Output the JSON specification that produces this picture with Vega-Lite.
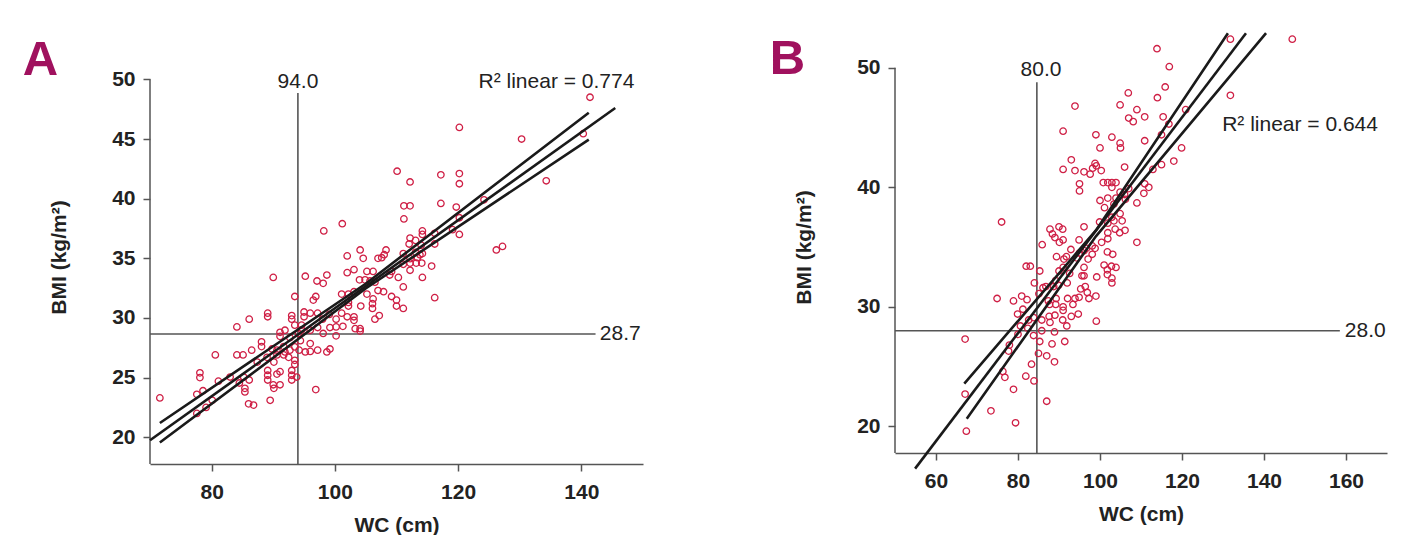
{
"$schema": "https://vega.github.io/schema/vega-lite/v6.json",
"background": "white",
"padding": {"left": 22, "top": 27, "right": 5, "bottom": 0},
"bounds": "flush",
"spacing": 252,
"config": {
  "view": {"stroke": null},
  "axis": {"grid": false, "labelFont": "Liberation Sans", "labelFontWeight": "bold", "labelFontSize": 21, "labelColor": "#222", "titleFont": "Liberation Sans", "titleFontWeight": "bold", "titleFontSize": 21, "titleColor": "#222", "domainColor": "#555", "domainWidth": 1.5, "tickColor": "#555", "tickWidth": 1.5, "tickSize": 7},
  "axisX": {"labelPadding": 10, "titlePadding": 12},
  "axisY": {"labelPadding": 8, "titlePadding": 42, "domain": false},
  "text": {"font": "Liberation Sans", "fontSize": 21, "color": "#222"}
},
"datasets": {
  "pointsA": [
    {"wc":141.4,"bmi":48.5},{"wc":120.2,"bmi":45.97},{"wc":140.3,"bmi":45.45},{"wc":130.3,"bmi":45.0},{"wc":110.1,"bmi":42.3},{"wc":112.2,"bmi":41.4},{"wc":117.2,"bmi":42.0},{"wc":120.2,"bmi":42.1},{"wc":120.2,"bmi":41.25},{"wc":134.3,"bmi":41.5},{"wc":124.2,"bmi":39.9},{"wc":111.2,"bmi":39.4},{"wc":112.2,"bmi":39.4},{"wc":117.2,"bmi":39.6},{"wc":119.7,"bmi":39.3},{"wc":120.2,"bmi":38.4},{"wc":111.2,"bmi":38.3},{"wc":101.2,"bmi":37.9},{"wc":98.2,"bmi":37.3},{"wc":119.1,"bmi":37.4},{"wc":120.2,"bmi":37.0},{"wc":114.2,"bmi":37.3},{"wc":114.2,"bmi":37.0},{"wc":116.2,"bmi":37.1},{"wc":127.2,"bmi":36.0},{"wc":126.2,"bmi":35.7},{"wc":116.2,"bmi":31.7},{"wc":80.6,"bmi":26.9},{"wc":81.1,"bmi":24.7},{"wc":78.1,"bmi":25.4},{"wc":78.1,"bmi":25.0},{"wc":77.6,"bmi":23.6},{"wc":78.6,"bmi":23.9},{"wc":71.6,"bmi":23.3},{"wc":80.1,"bmi":23.1},{"wc":79.1,"bmi":22.5},{"wc":77.6,"bmi":22.0},
    {"wc":112.2,"bmi":36.7},{"wc":113.1,"bmi":36.5},{"wc":114.0,"bmi":36.1},{"wc":112.05,"bmi":36.2},{"wc":116.2,"bmi":36.2},{"wc":113.1,"bmi":35.5},{"wc":113.8,"bmi":35.3},{"wc":114.2,"bmi":35.4},{"wc":112.2,"bmi":34.97},{"wc":113.4,"bmi":35.05},{"wc":112.2,"bmi":34.6},{"wc":113.2,"bmi":34.6},{"wc":114.1,"bmi":34.6},{"wc":115.7,"bmi":34.35},{"wc":112.2,"bmi":34.0},{"wc":114.2,"bmi":33.4},{"wc":107.6,"bmi":35.05},
    {"wc":104.1,"bmi":35.7},{"wc":108.3,"bmi":35.7},{"wc":108.0,"bmi":35.3},{"wc":102.0,"bmi":35.2},{"wc":104.6,"bmi":35.0},{"wc":107.0,"bmi":35.0},{"wc":111.1,"bmi":35.4},{"wc":111.1,"bmi":34.5},
    {"wc":90.0,"bmi":33.4},{"wc":95.2,"bmi":33.5},{"wc":98.7,"bmi":33.6},{"wc":97.1,"bmi":33.1},{"wc":98.1,"bmi":32.9},{"wc":102.0,"bmi":33.8},{"wc":103.1,"bmi":34.05},{"wc":105.2,"bmi":33.9},{"wc":106.2,"bmi":33.9},{"wc":104.0,"bmi":33.2},{"wc":104.9,"bmi":33.2},{"wc":105.7,"bmi":33.1},{"wc":106.5,"bmi":33.0},{"wc":109.2,"bmi":33.9},{"wc":110.3,"bmi":33.4},{"wc":108.9,"bmi":33.6},
    {"wc":93.5,"bmi":31.8},{"wc":96.9,"bmi":31.8},{"wc":96.5,"bmi":31.5},{"wc":101.1,"bmi":32.0},{"wc":102.2,"bmi":32.0},{"wc":103.1,"bmi":32.2},{"wc":102.2,"bmi":31.3},{"wc":102.2,"bmi":31.0},{"wc":105.2,"bmi":32.0},{"wc":107.0,"bmi":32.3},{"wc":107.9,"bmi":32.2},{"wc":106.2,"bmi":31.6},{"wc":106.1,"bmi":31.2},{"wc":106.1,"bmi":30.8},{"wc":109.2,"bmi":31.8},{"wc":110.0,"bmi":31.5},{"wc":110.0,"bmi":31.0},{"wc":111.1,"bmi":32.6},{"wc":111.1,"bmi":30.8},{"wc":104.2,"bmi":31.0},
    {"wc":84.1,"bmi":29.25},{"wc":86.1,"bmi":29.9},{"wc":89.1,"bmi":30.4},{"wc":89.1,"bmi":30.1},{"wc":93.0,"bmi":30.2},{"wc":93.0,"bmi":29.9},{"wc":95.0,"bmi":30.5},{"wc":95.0,"bmi":30.1},{"wc":96.0,"bmi":30.4},{"wc":97.2,"bmi":30.4},{"wc":98.0,"bmi":29.9},{"wc":99.1,"bmi":30.3},{"wc":100.2,"bmi":29.9},{"wc":101.1,"bmi":30.4},{"wc":102.0,"bmi":30.1},{"wc":103.1,"bmi":30.1},{"wc":103.1,"bmi":29.8},{"wc":107.2,"bmi":30.2},{"wc":106.5,"bmi":29.9},{"wc":93.5,"bmi":29.4},{"wc":94.6,"bmi":29.4},{"wc":96.0,"bmi":28.97},{"wc":97.2,"bmi":29.2},{"wc":98.1,"bmi":28.7},{"wc":99.2,"bmi":29.2},{"wc":100.2,"bmi":29.25},{"wc":101.3,"bmi":29.3},{"wc":100.2,"bmi":28.5},{"wc":103.3,"bmi":29.1},{"wc":104.1,"bmi":29.1},{"wc":104.1,"bmi":28.9},
    {"wc":91.1,"bmi":28.8},{"wc":91.9,"bmi":28.97},{"wc":92.7,"bmi":28.35},{"wc":91.1,"bmi":28.46},{"wc":94.1,"bmi":28.7},{"wc":94.6,"bmi":29.0},{"wc":94.4,"bmi":28.1},{"wc":88.1,"bmi":28.0},{"wc":88.1,"bmi":27.6},
    {"wc":93.5,"bmi":27.57},{"wc":94.2,"bmi":27.3},{"wc":95.2,"bmi":27.15},{"wc":96.0,"bmi":27.2},{"wc":97.2,"bmi":27.3},{"wc":98.7,"bmi":27.15},{"wc":99.2,"bmi":27.4},{"wc":96.0,"bmi":27.85},{"wc":89.8,"bmi":27.4},{"wc":90.6,"bmi":27.3},{"wc":91.9,"bmi":27.15},{"wc":92.7,"bmi":27.3},{"wc":91.7,"bmi":27.6},{"wc":86.5,"bmi":27.3},{"wc":84.1,"bmi":26.9},{"wc":85.1,"bmi":26.9},{"wc":89.0,"bmi":26.7},{"wc":90.6,"bmi":26.9},{"wc":91.7,"bmi":26.9},{"wc":92.5,"bmi":26.7},
    {"wc":93.5,"bmi":26.45},{"wc":93.5,"bmi":26.1},{"wc":87.4,"bmi":26.3},{"wc":90.1,"bmi":26.3},{"wc":89.1,"bmi":25.6},{"wc":89.1,"bmi":25.2},{"wc":89.1,"bmi":24.8},{"wc":90.6,"bmi":25.3},{"wc":91.1,"bmi":25.5},{"wc":93.0,"bmi":25.6},{"wc":93.0,"bmi":25.2},{"wc":93.0,"bmi":24.8},{"wc":93.8,"bmi":25.05},{"wc":90.0,"bmi":24.4},{"wc":91.1,"bmi":24.4},{"wc":83.0,"bmi":25.05},{"wc":85.2,"bmi":25.05},{"wc":86.1,"bmi":24.8},{"wc":84.5,"bmi":24.55},{"wc":85.4,"bmi":24.1},{"wc":85.4,"bmi":23.8},{"wc":90.1,"bmi":24.1},{"wc":96.9,"bmi":24.0},{"wc":89.5,"bmi":23.1},{"wc":86.0,"bmi":22.8},{"wc":86.8,"bmi":22.7}
  ],
  "pointsB": [
    {"wc":131.8,"bmi":52.4},{"wc":146.9,"bmi":52.4},{"wc":113.9,"bmi":51.6},{"wc":116.9,"bmi":50.1},{"wc":115.9,"bmi":48.4},{"wc":106.9,"bmi":47.9},{"wc":131.8,"bmi":47.7},{"wc":114.0,"bmi":47.5},{"wc":93.9,"bmi":46.8},{"wc":104.9,"bmi":46.9},{"wc":109.0,"bmi":46.5},{"wc":120.9,"bmi":46.5},{"wc":107.0,"bmi":45.8},{"wc":108.1,"bmi":45.5},{"wc":110.9,"bmi":45.9},{"wc":115.4,"bmi":45.9},{"wc":116.8,"bmi":45.3},{"wc":115.0,"bmi":44.4},{"wc":91.0,"bmi":44.7},{"wc":99.0,"bmi":44.4},{"wc":102.9,"bmi":44.2},{"wc":104.9,"bmi":43.7},{"wc":105.0,"bmi":43.3},{"wc":100.0,"bmi":43.3},{"wc":110.9,"bmi":43.9},{"wc":119.9,"bmi":43.3},{"wc":93.0,"bmi":42.3},{"wc":118.0,"bmi":42.2},{"wc":115.0,"bmi":41.9},{"wc":106.0,"bmi":41.7},{"wc":112.9,"bmi":41.5},{"wc":91.0,"bmi":41.5},{"wc":93.9,"bmi":41.4},{"wc":96.1,"bmi":41.3},{"wc":97.6,"bmi":41.1},{"wc":98.2,"bmi":41.6},{"wc":99.1,"bmi":41.8},{"wc":98.8,"bmi":42.0},{"wc":100.3,"bmi":41.4},{"wc":100.8,"bmi":40.4},{"wc":101.9,"bmi":40.4},{"wc":102.9,"bmi":40.4},{"wc":103.9,"bmi":40.4},{"wc":102.9,"bmi":40.0},{"wc":95.0,"bmi":40.3},{"wc":95.0,"bmi":39.7},{"wc":110.9,"bmi":40.3},{"wc":111.9,"bmi":40.0},{"wc":110.7,"bmi":39.5},{"wc":107.0,"bmi":39.9},{"wc":106.0,"bmi":39.4},{"wc":104.9,"bmi":39.6},{"wc":103.9,"bmi":39.1},{"wc":106.2,"bmi":39.0},{"wc":101.9,"bmi":39.1},{"wc":100.0,"bmi":38.9},{"wc":103.4,"bmi":38.6},{"wc":101.1,"bmi":38.3},{"wc":109.0,"bmi":38.7},{"wc":104.9,"bmi":37.8},{"wc":102.9,"bmi":37.5},{"wc":103.4,"bmi":37.2},{"wc":105.4,"bmi":37.2},{"wc":99.9,"bmi":37.1},{"wc":76.0,"bmi":37.1},{"wc":96.1,"bmi":36.7},{"wc":101.9,"bmi":37.0},{"wc":103.7,"bmi":36.5},{"wc":106.1,"bmi":36.4},{"wc":104.8,"bmi":36.2},{"wc":101.9,"bmi":36.2},{"wc":87.8,"bmi":36.5},{"wc":90.0,"bmi":36.7},{"wc":90.9,"bmi":36.5},{"wc":88.4,"bmi":36.1},{"wc":89.0,"bmi":35.8},{"wc":91.0,"bmi":35.6},{"wc":90.1,"bmi":35.4},{"wc":94.9,"bmi":35.6},{"wc":100.4,"bmi":35.4},{"wc":101.9,"bmi":35.7},{"wc":109.0,"bmi":35.4},{"wc":85.9,"bmi":35.2},{"wc":92.9,"bmi":34.8},{"wc":96.7,"bmi":34.9},{"wc":98.1,"bmi":35.1},{"wc":98.8,"bmi":34.9},{"wc":95.0,"bmi":34.5},{"wc":96.1,"bmi":34.7},{"wc":101.8,"bmi":34.6},{"wc":103.1,"bmi":34.4},{"wc":97.1,"bmi":34.0},{"wc":98.1,"bmi":34.4},{"wc":89.4,"bmi":34.2},{"wc":91.2,"bmi":34.0},{"wc":91.8,"bmi":34.2},{"wc":94.3,"bmi":34.1},{"wc":82.0,"bmi":33.4},{"wc":83.0,"bmi":33.4},{"wc":85.3,"bmi":33.0},{"wc":96.1,"bmi":33.3},{"wc":101.0,"bmi":33.5},{"wc":101.8,"bmi":33.1},{"wc":102.8,"bmi":33.4},{"wc":103.9,"bmi":33.3},{"wc":90.0,"bmi":33.0},{"wc":91.0,"bmi":33.3},{"wc":92.6,"bmi":32.8},{"wc":95.6,"bmi":32.6},{"wc":96.1,"bmi":32.6},{"wc":99.2,"bmi":32.5},{"wc":101.8,"bmi":32.7},{"wc":102.9,"bmi":32.4},{"wc":102.9,"bmi":32.0},{"wc":84.0,"bmi":32.0},{"wc":86.8,"bmi":31.7},{"wc":89.2,"bmi":32.2},{"wc":89.9,"bmi":31.8},{"wc":92.0,"bmi":32.0},{"wc":88.7,"bmi":31.7},{"wc":96.4,"bmi":31.7},{"wc":95.3,"bmi":31.5},{"wc":96.9,"bmi":31.2},{"wc":99.0,"bmi":30.9},{"wc":97.3,"bmi":30.7},{"wc":93.9,"bmi":30.7},{"wc":94.9,"bmi":30.8},{"wc":92.1,"bmi":30.7},{"wc":89.3,"bmi":30.7},{"wc":87.4,"bmi":30.5},{"wc":80.9,"bmi":30.9},{"wc":82.2,"bmi":30.6},{"wc":74.9,"bmi":30.7},{"wc":78.9,"bmi":30.5},{"wc":81.2,"bmi":29.8},{"wc":79.9,"bmi":29.4},{"wc":85.1,"bmi":31.1},{"wc":86.1,"bmi":31.6},{"wc":87.7,"bmi":30.2},{"wc":89.2,"bmi":30.2},{"wc":91.0,"bmi":30.0},{"wc":91.0,"bmi":29.7},{"wc":93.4,"bmi":30.2},{"wc":94.7,"bmi":29.4},{"wc":93.0,"bmi":29.2},{"wc":90.9,"bmi":28.9},{"wc":89.0,"bmi":29.3},{"wc":87.6,"bmi":29.2},{"wc":85.8,"bmi":28.9},{"wc":83.8,"bmi":29.1},{"wc":82.6,"bmi":28.9},{"wc":87.8,"bmi":28.7},{"wc":91.9,"bmi":28.4},{"wc":99.1,"bmi":28.8},{"wc":80.6,"bmi":28.4},{"wc":82.4,"bmi":28.2},{"wc":85.8,"bmi":28.0},{"wc":88.9,"bmi":27.9},{"wc":80.0,"bmi":27.7},{"wc":67.1,"bmi":27.3},{"wc":83.8,"bmi":27.6},{"wc":85.3,"bmi":27.1},{"wc":91.4,"bmi":27.1},{"wc":88.3,"bmi":26.9},{"wc":77.9,"bmi":26.8},{"wc":77.7,"bmi":26.3},{"wc":85.0,"bmi":26.1},{"wc":87.0,"bmi":25.9},{"wc":88.9,"bmi":25.4},{"wc":83.3,"bmi":25.2},{"wc":76.3,"bmi":24.6},{"wc":76.8,"bmi":24.1},{"wc":81.9,"bmi":24.2},{"wc":83.9,"bmi":23.8},{"wc":67.1,"bmi":22.7},{"wc":78.9,"bmi":23.1},{"wc":87.0,"bmi":22.1},{"wc":73.4,"bmi":21.3},{"wc":79.4,"bmi":20.3},{"wc":67.4,"bmi":19.6}
  ],
  "linesA": [
    {"line":"fit","wc":70,"bmi":19.75},{"line":"fit","wc":145.5,"bmi":47.6},
    {"line":"upper","wc":71.6,"bmi":21.2},{"line":"upper","wc":105,"bmi":32.87},{"line":"upper","wc":141.2,"bmi":47.2},
    {"line":"lower","wc":71.6,"bmi":19.56},{"line":"lower","wc":105,"bmi":32.47},{"line":"lower","wc":141.2,"bmi":44.95}
  ],
  "linesB": [
    {"line":"fit","wc":54.9,"bmi":16.46},{"line":"fit","wc":135.6,"bmi":52.9},
    {"line":"upper","wc":66.9,"bmi":23.57},{"line":"upper","wc":99,"bmi":36.4},{"line":"upper","wc":131.2,"bmi":52.9},
    {"line":"lower","wc":67.5,"bmi":20.64},{"line":"lower","wc":99,"bmi":35.9},{"line":"lower","wc":140.5,"bmi":52.9}
  ]
},
"hconcat": [
  {
    "width": 493, "height": 432,
    "layer": [
      {
        "data": {"values": [{"wc": 94, "wc2": 94, "bmi": 17.76, "bmi2": 48.85}, {"wc": 70, "wc2": 142.3, "bmi": 28.66, "bmi2": 28.66}]},
        "mark": {"type": "rule", "color": "#555", "strokeWidth": 1.6},
        "encoding": {"x": {"field": "wc", "type": "quantitative"}, "x2": {"field": "wc2"}, "y": {"field": "bmi", "type": "quantitative"}, "y2": {"field": "bmi2"}}
      },
      {
        "data": {"values": [{}]},
        "mark": {"type": "rule", "color": "#555", "strokeWidth": 1.5},
        "encoding": {"x": {"datum": 70, "type": "quantitative"}, "y": {"datum": 17.76, "type": "quantitative"}, "y2": {"datum": 50}}
      },
      {
        "data": {"name": "pointsA"},
        "mark": {"type": "point", "shape": "circle", "filled": false, "size": 42, "strokeWidth": 1.3, "color": "#cf1f45", "opacity": 1},
        "encoding": {
          "x": {"field": "wc", "type": "quantitative", "scale": {"domain": [70, 150], "nice": false, "zero": false}, "axis": {"values": [80, 100, 120, 140], "title": "WC (cm)"}},
          "y": {"field": "bmi", "type": "quantitative", "scale": {"domain": [17.76, 53.97], "nice": false, "zero": false}, "axis": {"values": [20, 25, 30, 35, 40, 45, 50], "title": "BMI (kg/m²)", "titleY": 225}}
        }
      },
      {
        "data": {"name": "linesA"},
        "mark": {"type": "line", "color": "#1a1a1a", "strokeWidth": 2.6},
        "encoding": {"x": {"field": "wc", "type": "quantitative"}, "y": {"field": "bmi", "type": "quantitative"}, "detail": {"field": "line"}}
      },
      {
        "data": {"values": [{"label": "94.0", "wc": 94, "bmi": 49.3}]},
        "mark": {"type": "text", "align": "center", "baseline": "alphabetic"},
        "encoding": {"x": {"field": "wc", "type": "quantitative"}, "y": {"field": "bmi", "type": "quantitative"}, "text": {"field": "label"}}
      },
      {
        "data": {"values": [{"label": "R² linear = 0.774", "wc": 148.6, "bmi": 49.3}]},
        "mark": {"type": "text", "align": "right", "baseline": "alphabetic"},
        "encoding": {"x": {"field": "wc", "type": "quantitative"}, "y": {"field": "bmi", "type": "quantitative"}, "text": {"field": "label"}}
      },
      {
        "data": {"values": [{"label": "28.7", "wc": 143.0, "bmi": 28.66}]},
        "mark": {"type": "text", "align": "left", "baseline": "middle"},
        "encoding": {"x": {"field": "wc", "type": "quantitative"}, "y": {"field": "bmi", "type": "quantitative"}, "text": {"field": "label"}}
      },
      {
        "data": {"values": [{"label": "A", "wc": 49.34, "bmi": 50.34}]},
        "mark": {"type": "text", "align": "left", "baseline": "alphabetic", "fontSize": 49, "fontWeight": "bold", "color": "#a0115e"},
        "encoding": {"x": {"field": "wc", "type": "quantitative"}, "y": {"field": "bmi", "type": "quantitative"}, "text": {"field": "label"}}
      }
    ]
  },
  {
    "width": 492, "height": 421,
    "layer": [
      {
        "data": {"values": [{"wc": 84.6, "wc2": 84.6, "bmi": 17.77, "bmi2": 48.8}, {"wc": 50, "wc2": 158.5, "bmi": 28.0, "bmi2": 28.0}]},
        "mark": {"type": "rule", "color": "#555", "strokeWidth": 1.6},
        "encoding": {"x": {"field": "wc", "type": "quantitative"}, "x2": {"field": "wc2"}, "y": {"field": "bmi", "type": "quantitative"}, "y2": {"field": "bmi2"}}
      },
      {
        "data": {"values": [{}]},
        "mark": {"type": "rule", "color": "#555", "strokeWidth": 1.5},
        "encoding": {"x": {"datum": 50, "type": "quantitative"}, "y": {"datum": 17.77, "type": "quantitative"}, "y2": {"datum": 50}}
      },
      {
        "data": {"name": "pointsB"},
        "mark": {"type": "point", "shape": "circle", "filled": false, "size": 42, "strokeWidth": 1.3, "color": "#cf1f45", "opacity": 1},
        "encoding": {
          "x": {"field": "wc", "type": "quantitative", "scale": {"domain": [50, 170], "nice": false, "zero": false}, "axis": {"values": [60, 80, 100, 120, 140, 160], "title": "WC (cm)"}},
          "y": {"field": "bmi", "type": "quantitative", "scale": {"domain": [17.77, 53.0], "nice": false, "zero": false}, "axis": {"values": [20, 30, 40, 50], "title": "BMI (kg/m²)", "titleY": 215}}
        }
      },
      {
        "data": {"name": "linesB"},
        "mark": {"type": "line", "color": "#1a1a1a", "strokeWidth": 2.6},
        "encoding": {"x": {"field": "wc", "type": "quantitative"}, "y": {"field": "bmi", "type": "quantitative"}, "detail": {"field": "line"}}
      },
      {
        "data": {"values": [{"label": "80.0", "wc": 85.6, "bmi": 49.3}]},
        "mark": {"type": "text", "align": "center", "baseline": "alphabetic"},
        "encoding": {"x": {"field": "wc", "type": "quantitative"}, "y": {"field": "bmi", "type": "quantitative"}, "text": {"field": "label"}}
      },
      {
        "data": {"values": [{"label": "R² linear = 0.644", "wc": 167.8, "bmi": 44.7}]},
        "mark": {"type": "text", "align": "right", "baseline": "alphabetic"},
        "encoding": {"x": {"field": "wc", "type": "quantitative"}, "y": {"field": "bmi", "type": "quantitative"}, "text": {"field": "label"}}
      },
      {
        "data": {"values": [{"label": "28.0", "wc": 159.7, "bmi": 28.0}]},
        "mark": {"type": "text", "align": "left", "baseline": "middle"},
        "encoding": {"x": {"field": "wc", "type": "quantitative"}, "y": {"field": "bmi", "type": "quantitative"}, "text": {"field": "label"}}
      },
      {
        "data": {"values": [{"label": "B", "wc": 19.44, "bmi": 49.46}]},
        "mark": {"type": "text", "align": "left", "baseline": "alphabetic", "fontSize": 49, "fontWeight": "bold", "color": "#a0115e"},
        "encoding": {"x": {"field": "wc", "type": "quantitative"}, "y": {"field": "bmi", "type": "quantitative"}, "text": {"field": "label"}}
      }
    ]
  }
]
}
